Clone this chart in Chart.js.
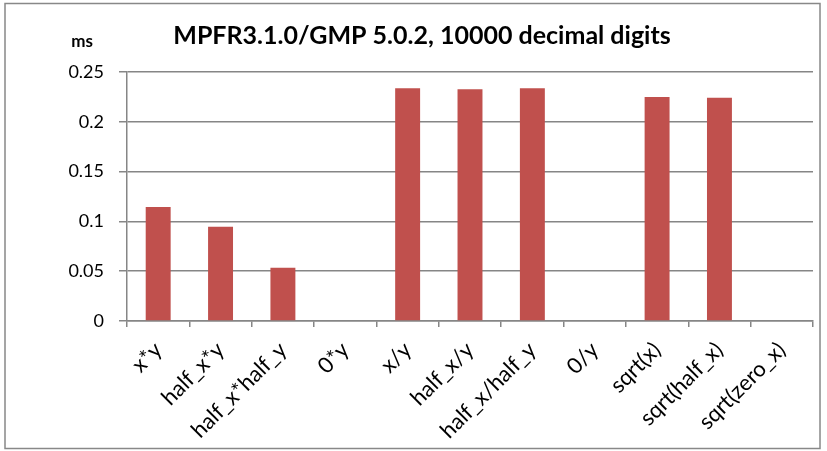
<!DOCTYPE html>
<html><head><meta charset="utf-8">
<script src="https://cdn.jsdelivr.net/npm/chart.js@4/dist/chart.umd.min.js"></script>
<style>html,body{margin:0;padding:0;background:#fff}#wrap{position:relative;width:827px;height:451px}</style>
</head><body><div id="wrap"><canvas id="c" width="827" height="451"></canvas></div>
<script>
const categories = ["x*y","half_x*y","half_x*half_y","0*y","x/y","half_x/y","half_x/half_y","0/y","sqrt(x)","sqrt(half_x)","sqrt(zero_x)"];
const timesMs = [0.1145, 0.0947, 0.0535, 0, 0.2338, 0.2328, 0.2338, 0, 0.2248, 0.2242, 0];
const yTicks = [0, 0.05, 0.1, 0.15, 0.2, 0.25];
const titleText = "MPFR3.1.0/GMP 5.0.2, 10000 decimal digits";
const unitText = "ms";

const FONT = "Lato, 'Open Sans', sans-serif";
const decor = {
  id: 'decor',
  afterDraw(chart) {
    const ctx = chart.ctx;
    ctx.save();
    ctx.strokeStyle = '#888888';
    ctx.lineWidth = 1.5;
    ctx.strokeRect(5, 3.5, 815, 445);
    ctx.fillStyle = '#000';
    ctx.textBaseline = 'middle';
    ctx.textAlign = 'center';
    ctx.font = "bold 25px " + FONT;
    ctx.fillText(titleText, 422, 36);
    ctx.font = "bold 17px " + FONT;
    ctx.fillText(unitText, 82, 42);
    ctx.restore();
  }
};

new Chart(document.getElementById('c'), {
  type: 'bar',
  data: { labels: categories, datasets: [{ data: timesMs, backgroundColor: '#C0504D', categoryPercentage: 1, barPercentage: 0.4 }] },
  options: {
    responsive: false, animation: false,
    layout: { padding: { left: 0, right: 14, top: 72, bottom: 0 } },
    plugins: { legend: { display: false }, tooltip: { enabled: false } },
    scales: {
      x: {
        offset: true,
        grid: { offset: true, drawOnChartArea: false, drawTicks: true, tickLength: 6, color: '#868686', lineWidth: 1.5 },
        border: { color: '#868686', width: 1.5 },
        ticks: { minRotation: 45, maxRotation: 45, autoSkip: false, color: '#000', font: { family: FONT, size: 22 }, padding: 10 },
        afterFit(s) { s.height = 130; }
      },
      y: {
        min: 0, max: 0.25,
        afterBuildTicks(s) { s.ticks = yTicks.map(v => ({ value: v })); },
        grid: { color: '#868686', lineWidth: 1.5, tickLength: 8 },
        border: { color: '#868686', width: 1.5 },
        ticks: { color: '#000', font: { family: FONT, size: 18 }, padding: 15, callback: v => String(v) },
        afterFit(s) { s.width = 127; }
      }
    }
  },
  plugins: [decor]
});
</script></body></html>
